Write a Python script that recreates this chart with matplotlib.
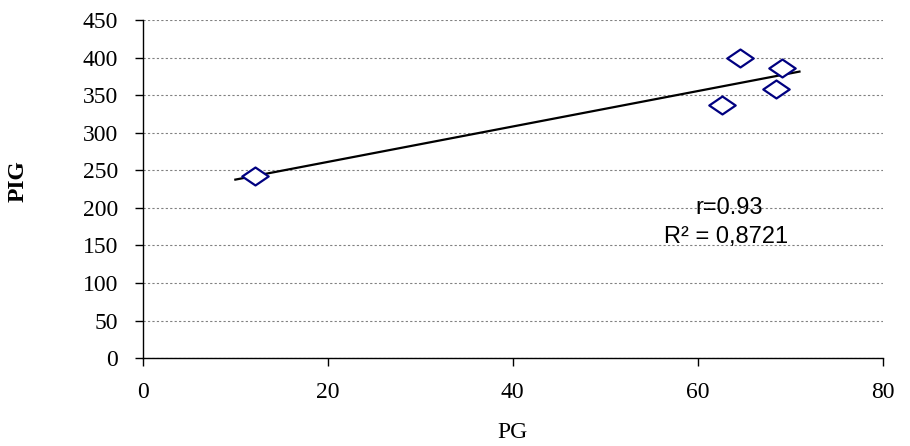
import numpy as np
import matplotlib
matplotlib.use("Agg")
import matplotlib.pyplot as plt
from matplotlib.path import Path

# values
pg = [12.1, 62.6, 64.6, 68.5, 69.1]
pig = [243, 337, 399, 358, 386]
x_ticks = [0, 20, 40, 60, 80]
y_ticks = [0, 50, 100, 150, 200, 250, 300, 350, 400, 450]
trend_range = [10, 71]


def main():
    fig = plt.figure(figsize=(9.1, 4.46), dpi=100)
    ax = fig.add_axes([0.157, 0.197, 0.813, 0.758])

    # flattened diamond like the Excel marker
    diamond = Path([(-1, 0), (0, 0.68), (1, 0), (0, -0.68), (-1, 0)],
                   [Path.MOVETO, Path.LINETO, Path.LINETO, Path.LINETO, Path.CLOSEPOLY])

    # linear trendline
    slope, intercept = np.polyfit(pg, pig, 1)
    tx = np.array(trend_range)
    ax.plot(tx, slope * tx + intercept, color="black", lw=1.6, zorder=2)

    ax.plot(pg, pig, linestyle="none", marker=diamond, markersize=19,
            markerfacecolor="white", markeredgecolor="#000080", markeredgewidth=1.6,
            zorder=3)

    ax.set_xlim(0, 80)
    ax.set_ylim(0, 450)
    ax.set_xticks(x_ticks)
    ax.set_yticks(y_ticks)

    ax.yaxis.grid(True, linestyle=(0, (2, 2)), color="#808080", lw=0.8)
    ax.set_axisbelow(True)
    for s in ["top", "right"]:
        ax.spines[s].set_visible(False)
    ax.spines["left"].set_linewidth(1.0)
    ax.spines["bottom"].set_linewidth(1.0)
    ax.tick_params(direction="out", length=6, width=1.0, labelsize=17)
    ax.tick_params(axis="y", pad=12)
    ax.tick_params(axis="x", pad=11)
    for lab in ax.get_xticklabels() + ax.get_yticklabels():
        lab.set_family("Liberation Serif")

    ax.set_xlabel("PG", family="Liberation Serif", fontsize=17)
    ax.set_ylabel("PIG", family="Liberation Serif", fontsize=17, fontweight="bold")
    ax.xaxis.set_label_coords(0.5, -0.19)
    ax.yaxis.label.set_verticalalignment("center")
    ax.yaxis.set_label_coords(-0.169, 0.524)

    ax.text(63.4, 200, "r=0.93", family="Liberation Sans", fontsize=17,
            ha="center", va="center")
    ax.text(63.1, 161, "R² = 0,8721", family="Liberation Sans", fontsize=17,
            ha="center", va="center")

    fig.savefig("out.png", dpi=100)


if __name__ == "__main__":
    main()
